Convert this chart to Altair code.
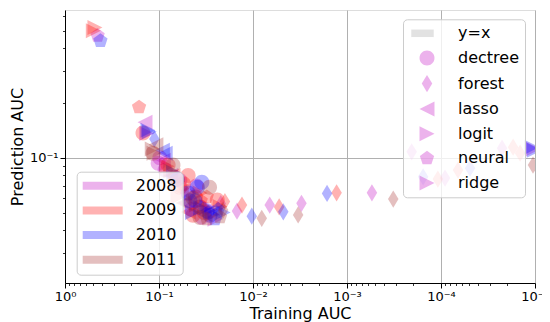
import altair as alt
import pandas as pd

# ---------------- data ----------------
year_names = ["2008", "2009", "2010", "2011"]
year_colors = ["#bf00bf", "#ff0000", "#0000ff", "#a52a2a"]
model_names = ["y=x", "dectree", "forest", "lasso", "logit", "neural", "ridge"]
model_legend_colors = ["#a0a0a0", "#bf00bf", "#bf00bf", "#bf00bf", "#bf00bf", "#bf00bf", "#bf00bf"]

dectree_year = ["2009", "2008", "2008", "2009", "2008", "2009", "2010", "2011", "2010", "2008", "2009", "2010",
                "2009", "2009", "2010", "2008", "2009", "2009", "2011", "2011", "2010", "2008", "2009", "2011", "2011",
                "2010", "2009", "2008", "2010", "2009"]
dectree_train = [0.148, 0.098, 0.102, 0.080, 0.086, 0.049, 0.035, 0.029, 0.039, 0.040, 0.060, 0.049,
                 0.041, 0.024, 0.0287, 0.0349, 0.0435, 0.0366, 0.0435, 0.0366, 0.0414, 0.060, 0.055, 0.116, 0.071,
                 0.047, 0.033, 0.045, 0.064, 0.068]
dectree_pred = [0.137, 0.100, 0.0935, 0.0912, 0.0856, 0.080, 0.0735, 0.069, 0.069, 0.070, 0.069, 0.064,
                0.061, 0.0586, 0.0484, 0.0472, 0.0484, 0.0536, 0.060, 0.047, 0.058, 0.075, 0.072, 0.106, 0.0912,
                0.058, 0.050, 0.052, 0.076, 0.078]

forest_year = ["2010", "2009", "2008", "2011", "2009", "2008", "2010", "2011", "2008", "2009", "2010", "2011",
               "2008", "2010", "2009", "2008", "2011", "2008", "2010", "2009", "2008", "2009", "2010", "2008",
               "2009", "2009", "2011"]
forest_train = [0.112, 0.0199, 0.0220, 0.0208, 0.0131, 0.0148, 0.0103, 0.00807, 0.00664, 0.00527, 0.00476, 0.00331,
                0.00305, 0.00163, 0.00129, 0.000543, 0.000322, 0.000205, 0.000155, 0.000108, 0.0000906, 0.0000659,
                0.0000491, 0.0000224, 0.0000171, 0.0000144, 0.0000105]
forest_pred = [0.127, 0.0575, 0.0560, 0.0516, 0.055, 0.051, 0.0478, 0.0465, 0.055, 0.0537, 0.0505, 0.0485,
               0.0562, 0.0637, 0.0642, 0.0642, 0.0593, 0.108, 0.0787, 0.0764, 0.0774, 0.0856,
               0.0877, 0.113, 0.1145, 0.106, 0.0912]

lasso_year = ["2008", "2011", "2010", "2010", "2009", "2010", "2009", "2011", "2008", "2008",
              "2010", "2011", "2009", "2008"]
lasso_train = [0.141, 0.108, 0.092, 0.086, 0.071, 0.0254, 0.049, 0.0556, 0.053, 0.090,
               0.033, 0.040, 0.058, 0.075]
lasso_pred = [0.157, 0.118, 0.110, 0.106, 0.080, 0.0503, 0.0503, 0.0564, 0.0565, 0.097,
              0.049, 0.052, 0.066, 0.080]

logit_year = ["2009", "2008", "2010", "2011", "2009", "2010", "2008", "2009", "2010", "2011", "2010", "2008", "2009"]
logit_train = [0.50, 0.135, 0.131, 0.118, 0.063, 0.031, 0.030, 0.0366, 0.044, 0.066, 0.0000108, 0.0000105, 0.027]
logit_pred = [0.50, 0.136, 0.142, 0.112, 0.061, 0.0536, 0.0540, 0.064, 0.050, 0.072, 0.1145, 0.112, 0.049]

neural_year = ["2008", "2010", "2009", "2008", "2009", "2010", "2011", "2011", "2010", "2010", "2009"]
neural_train = [0.45, 0.42, 0.163, 0.050, 0.031, 0.0254, 0.0224, 0.0309, 0.0235, 0.030, 0.036]
neural_pred = [0.47, 0.44, 0.190, 0.063, 0.061, 0.046, 0.0472, 0.046, 0.052, 0.050, 0.058]

ridge_year = ["2009", "2010", "2011", "2010", "2008", "2009", "2009", "2011", "2010", "2009", "2010", "2010", "2009"]
ridge_train = [0.48, 0.127, 0.113, 0.0208, 0.0254, 0.0224, 0.0287, 0.075, 0.070, 0.040, 0.0000102, 0.036, 0.082]
ridge_pred = [0.52, 0.139, 0.106, 0.050, 0.046, 0.054, 0.052, 0.085, 0.083, 0.055, 0.110, 0.053, 0.090]

x_major = [1, 0.1, 0.01, 0.001, 0.0001, 0.00001]

# ---------------- table ----------------
frames = []
for name, yr, tr, pr in [
    ("dectree", dectree_year, dectree_train, dectree_pred),
    ("forest", forest_year, forest_train, forest_pred),
    ("lasso", lasso_year, lasso_train, lasso_pred),
    ("logit", logit_year, logit_train, logit_pred),
    ("neural", neural_year, neural_train, neural_pred),
    ("ridge", ridge_year, ridge_train, ridge_pred),
]:
    frames.append(pd.DataFrame({"model": name, "year": yr, "train": tr, "pred": pr}))
df = pd.concat(frames, ignore_index=True).sort_values("year", kind="stable")

# ---------------- marker shapes (matplotlib-like) ----------------
circle = "M1,0 A1,1 0 1,1 -1,0 A1,1 0 1,1 1,0 Z"
thin_diamond = "M0,-1.15 L0.7,0 L0,1.15 L-0.7,0 Z"
tri_left = "M1,-1 L-1,0 L1,1 Z"
tri_right = "M-1,-1 L1,0 L-1,1 Z"
pentagon = "M0,-1 L0.951,-0.309 L0.588,0.809 L-0.588,0.809 L-0.951,-0.309 Z"
line_handle = "M-2.1,-0.5 L0.9,-0.5 L0.9,0.5 L-2.1,0.5 Z"
shape_range = [line_handle, circle, thin_diamond, tri_left, tri_right, pentagon, tri_right]
year_handle = "M-4,-0.8 L4,-0.8 L4,0.8 L-4,0.8 Z"

# ---------------- ticks ----------------
x_ticks = list(x_major) + [k * d for d in [0.1, 0.01, 0.001, 0.0001, 0.00001] for k in range(2, 10)]
y_ticks = [0.03, 0.04, 0.05, 0.06, 0.07, 0.08, 0.09, 0.1, 0.2, 0.3, 0.4, 0.5, 0.6]

is_major = "abs(log(datum.value)/LN10 - round(log(datum.value)/LN10)) < 1e-6"
exp_txt = "(round(log(datum.value)/LN10) == 0 ? '\u2070' : '\u207b' + ['\u2070','\u00b9','\u00b2','\u00b3','\u2074','\u2075'][-round(log(datum.value)/LN10)])"
label_expr = f"{is_major} ? '10' + {exp_txt} : ''"

def make_axis(title, values, title_pad):
    return alt.Axis(
        title=title,
        values=values,
        labelExpr=label_expr,
        labelFont="DejaVu Sans",
        labelFontSize=13,
        labelColor="black",
        labelPadding=2,
        labelOverlap=False,
        labelFlush=False,
        titleFont="DejaVu Sans",
        titleFontSize=16,
        titleFontWeight="normal",
        titleColor="black",
        titlePadding=title_pad,
        domainColor="black",
        tickColor="black",
        tickSize={"condition": {"test": is_major, "value": 5}, "value": 2.5},
        tickWidth={"condition": {"test": is_major, "value": 1}, "value": 0.8},
        grid=True,
        gridColor="#b0b0b0",
        gridWidth=1,
        gridOpacity={"condition": {"test": is_major, "value": 1}, "value": 0},
    )

x_enc = alt.X("train:Q",
              scale=alt.Scale(type="log", domain=[0.00001, 1], reverse=True, nice=False),
              axis=make_axis("Training AUC", x_ticks, 2))
y_enc = alt.Y("pred:Q",
              scale=alt.Scale(type="log", domain=[0.0205, 0.65], nice=False),
              axis=make_axis("Prediction AUC", y_ticks, 4))

legend_common = dict(
    title=None,
    orient="none",
    labelFont="DejaVu Sans",
    labelFontSize=16,
    labelColor="black",
    padding=6,
    fillColor="rgba(255,255,255,0.8)",
    strokeColor="#cccccc",
    cornerRadius=4,
    symbolOpacity=0.3,
    symbolStrokeWidth=0,
)

points = alt.Chart(df).mark_point(filled=True, opacity=0.3, size=225, strokeWidth=0, clip=True).encode(
    x=x_enc,
    y=y_enc,
    color=alt.Color("year:N", scale=alt.Scale(domain=year_names, range=year_colors),
                    legend=alt.Legend(legendX=11.7, legendY=161.7, symbolType=year_handle, symbolSize=100,
                                      rowPadding=8.7, symbolOffset=12, labelOffset=25, **legend_common)),
    shape=alt.Shape("model:N", scale=alt.Scale(domain=model_names, range=shape_range), legend=None),
)

model_legend = alt.Legend(legendX=338, legendY=9.3, symbolSize=225, rowPadding=8.6,
                          symbolOffset=10, labelOffset=23, **legend_common)

legend_layer = alt.Chart(df).mark_point(filled=True, opacity=0, size=225, strokeWidth=0).encode(
    x=x_enc,
    y=y_enc,
    color=alt.Color("model:N", scale=alt.Scale(domain=model_names, range=model_legend_colors), legend=model_legend),
    shape=alt.Shape("model:N", scale=alt.Scale(domain=model_names, range=shape_range), legend=model_legend),
)

chart = (
    alt.layer(points, legend_layer)
    .resolve_scale(color="independent", shape="independent")
    .properties(
        width=470,
        height=273,
        autosize=alt.AutoSizeParams(type="none"),
        padding={"left": 57, "top": 2, "right": 7, "bottom": 39},
    )
    .configure_view(stroke="black", strokeWidth=1)
    .configure(background="white")
)

chart.save("out.html", embed_options={"renderer": "svg", "actions": False})
